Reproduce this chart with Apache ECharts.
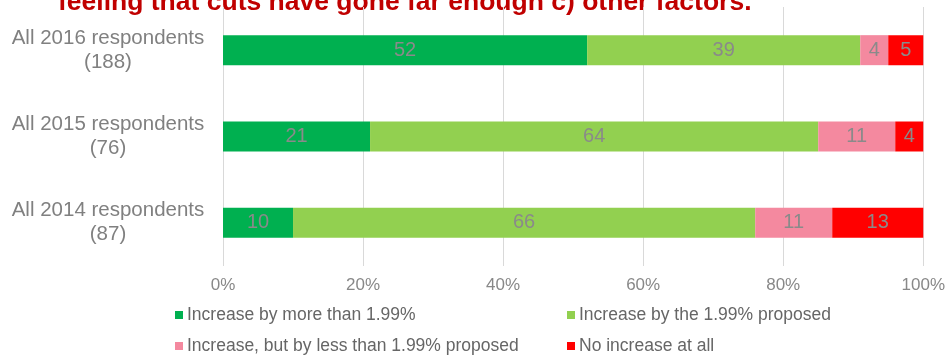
<!DOCTYPE html>
<html>
<head>
<meta charset="utf-8">
<script src="https://cdn.jsdelivr.net/npm/echarts@6/dist/echarts.min.js"></script>
<style>
  html, body { margin: 0; padding: 0; background: #fff; }
  #chart { width: 948px; height: 356px; }
</style>
</head>
<body>
<div id="chart"></div>
<script>
// Respondent groups, top to bottom
const categories = ['All 2016 respondents\n(188)', 'All 2015 respondents\n(76)', 'All 2014 respondents\n(87)'];
const seriesNames = [
  'Increase by more than 1.99%',
  'Increase by the 1.99% proposed',
  'Increase, but by less than 1.99% proposed',
  'No increase at all'
];
// Percent of respondents per answer, in category order
const moreThan = [52, 21, 10];
const proposed = [39, 64, 66];
const lessThan = [4, 11, 11];
const noIncrease = [5, 4, 13];
const xTicks = [0, 20, 40, 60, 80, 100];

const colors = ['#00B050', '#92D050', '#F4899F', '#FF0000'];
const values = [moreThan, proposed, lessThan, noIncrease];
const font = 'Liberation Sans, Arial, sans-serif';

const chart = echarts.init(document.getElementById('chart'));

const series = seriesNames.map((name, i) => ({
  name,
  type: 'bar',
  stack: 'total',
  barWidth: 30,
  itemStyle: { color: colors[i] },
  label: {
    show: true,
    position: 'inside',
    color: '#8A8A8A',
    fontFamily: font,
    fontSize: 20
  },
  data: values[i]
}));

// two-column legend under the axis
const legendPos = [[170, 301], [562, 301], [170, 332], [562, 332]];
const legends = seriesNames.map((name, i) => ({
  data: [name],
  left: legendPos[i][0],
  top: legendPos[i][1],
  itemWidth: 8,
  itemHeight: 8,
  icon: 'rect',
  textStyle: { color: '#666666', fontFamily: font, fontSize: 17.5, padding: [0, 0, 0, -1] },
  selectedMode: false
}));

chart.setOption({
  animation: false,
  color: colors,
  graphic: [{
    type: 'text',
    x: 58,
    y: 16,
    style: {
      text: 'feeling that cuts have gone far enough c) other factors.',
      fill: '#C00000',
      font: 'bold 26.5px ' + font,
      verticalAlign: 'bottom'
    }
  }],
  legend: legends,
  grid: { left: 223, right: 23, top: 7, bottom: 90, containLabel: false },
  xAxis: {
    type: 'value',
    min: xTicks[0],
    max: xTicks[xTicks.length - 1],
    interval: 20,
    axisLine: { show: false },
    axisTick: { show: false },
    splitLine: { lineStyle: { color: '#D9D9D9', width: 1 } },
    axisLabel: {
      formatter: '{value}%',
      color: '#888888',
      fontFamily: font,
      fontSize: 17,
      margin: 11
    }
  },
  yAxis: {
    type: 'category',
    inverse: true,
    data: categories,
    axisLine: { show: false },
    axisTick: { show: false },
    axisLabel: {
      color: '#808080',
      fontFamily: font,
      fontSize: 20.5,
      lineHeight: 24,
      align: 'center',
      margin: 115
    }
  },
  series
});
</script>
</body>
</html>
